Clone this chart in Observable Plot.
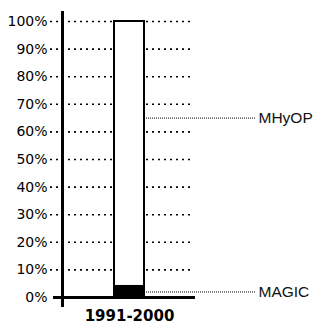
<!DOCTYPE html>
<html>
<head>
<meta charset="utf-8">
<script src="https://cdn.jsdelivr.net/npm/d3@7"></script>
<script src="https://cdn.jsdelivr.net/npm/@observablehq/plot@0.6"></script>
<style>
  html, body { margin: 0; padding: 0; background: #fff; }
  #chart svg { display: block; }
</style>
</head>
<body>
<div id="chart"></div>
<script>
const categories = ["1991-2000"];
const series = ["MAGIC", "MHyOP"];
const values = [4, 96];
const labelAt = [2, 65];
const yTicks = [0, 10, 20, 30, 40, 50, 60, 70, 80, 90, 100];

const data = series.map((s, i) => ({cat: categories[0], series: s, value: values[i]}));
const labels = series.map((s, i) => ({series: s, y: labelAt[i]}));

const chart = Plot.plot({
  width: 314,
  height: 327,
  marginTop: 21,
  marginBottom: 30,
  marginLeft: 62,
  marginRight: 119,
  style: {fontFamily: "DejaVu Sans", fontSize: "14px", color: "#000", background: "#fff"},
  x: {domain: categories, padding: 0.632, label: null},
  y: {domain: [0, 100], ticks: yTicks, label: null},
  color: {domain: series, range: ["#000", "#fff"]},
  marks: [
    Plot.ruleY(yTicks.filter(d => d > 0), {strokeDasharray: "2,4", strokeWidth: 1.6, stroke: "#000", insetLeft: -12, insetRight: 2}),
    Plot.barY(data, {x: "cat", y: "value", fill: "series", stroke: "#000", strokeWidth: 2}),
    Plot.ruleY(labels, {y: "y", stroke: "#000", strokeWidth: 1, strokeDasharray: "1,1", insetLeft: 82, insetRight: -60}),
    Plot.text(labels, {y: "y", text: "series", frameAnchor: "right", dx: 63, textAnchor: "start", fontFamily: "Liberation Sans", fontSize: 15.5, fill: "#111"}),
    Plot.ruleY([0], {stroke: "#000", strokeWidth: 3, insetLeft: -9}),
    Plot.frame({anchor: "left", stroke: "#000", strokeWidth: 3, insetTop: -9, insetBottom: -8}),
    Plot.axisY({ticks: yTicks, tickSize: 0, tickPadding: 15, tickFormat: d => d + "%", fontSize: 14, fill: "#000"}),
    Plot.axisX({tickSize: 0, tickPadding: 13, fontSize: 15, fontWeight: "bold", fill: "#000"})
  ]
});
document.getElementById("chart").append(chart);
</script>
</body>
</html>
